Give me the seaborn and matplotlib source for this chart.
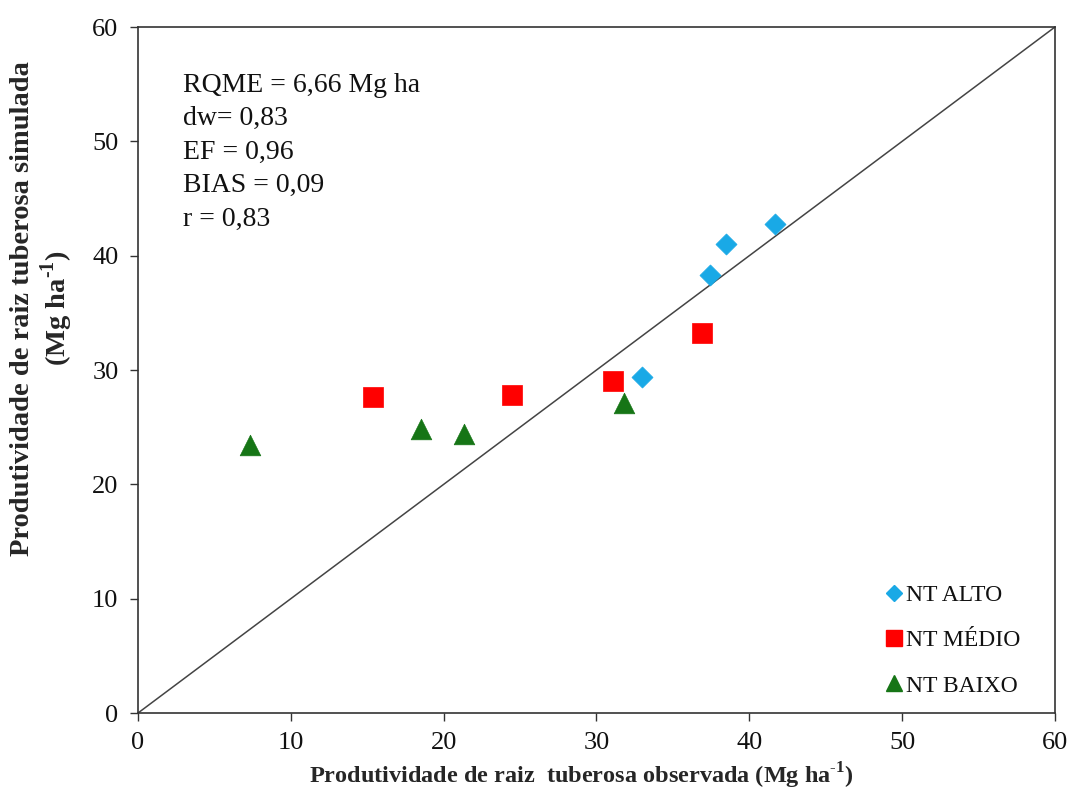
import matplotlib
matplotlib.use("Agg")
import matplotlib.pyplot as plt
import seaborn as sns
import pandas as pd
from matplotlib.lines import Line2D

# Data
groups = ["NT ALTO", "NT MÉDIO", "NT BAIXO"]
alto_obs = [33.0, 37.4, 38.5, 41.7]
alto_sim = [29.4, 38.3, 41.0, 42.8]
medio_obs = [15.4, 24.5, 31.1, 36.9]
medio_sim = [27.6, 27.8, 29.0, 33.2]
baixo_obs = [7.3, 18.5, 21.3, 31.8]
baixo_sim = [23.4, 24.8, 24.4, 27.1]
ticks = [0, 10, 20, 30, 40, 50, 60]
stats_text = ["RQME = 6,66 Mg ha", "dw= 0,83", "EF = 0,96", "BIAS = 0,09", "r = 0,83"]

df = pd.DataFrame({
    "obs": alto_obs + medio_obs + baixo_obs,
    "sim": alto_sim + medio_sim + baixo_sim,
    "grp": [groups[0]] * len(alto_obs) + [groups[1]] * len(medio_obs) + [groups[2]] * len(baixo_obs),
})

sns.set_style("white")
plt.rcParams["font.family"] = ["Liberation Serif", "DejaVu Serif"]
plt.rcParams["mathtext.fontset"] = "custom"
plt.rcParams["mathtext.rm"] = "Liberation Serif"
plt.rcParams["mathtext.bf"] = "Liberation Serif:bold"

fig = plt.figure(figsize=(10.73, 7.92), dpi=100)
ax = fig.add_axes([0.1286, 0.0997, 0.9832 - 0.1286, 0.9659 - 0.0997])

palette = {groups[0]: "#19A9E6", groups[1]: "#FF0000", groups[2]: "#167516"}
markers = {groups[0]: "D", groups[1]: "s", groups[2]: "^"}
sizes = {groups[0]: 115, groups[1]: 200, groups[2]: 220}

# 1:1 line
lim = [ticks[0], ticks[-1]]
ax.plot(lim, lim, color="#444444", lw=1.1, zorder=1)

for g in groups:
    sub = df[df.grp == g]
    sns.scatterplot(data=sub, x="obs", y="sim", color=palette[g], marker=markers[g],
                    s=sizes[g], edgecolor=palette[g], linewidth=0.5, ax=ax, zorder=3,
                    legend=False)

ax.set_xlim(lim)
ax.set_ylim(lim)
ax.set_xticks(ticks)
ax.set_yticks(ticks)
ax.tick_params(axis="both", direction="out", length=6, width=1, color="#333333",
               labelsize=19, bottom=True, left=True, pad=8, labelcolor="#111111")
for sp in ax.spines.values():
    sp.set_color("#333333")
    sp.set_linewidth(1.2)

sup = "$^{\\mathbf{\\text{-}1}}$"
ax.set_xlabel("Produtividade de raiz  tuberosa observada (Mg ha" + sup + ")",
              fontsize=17.5, fontweight="bold")
ax.xaxis.set_label_coords(0.484, -0.07)
ax.set_ylabel("Produtividade de raiz tuberosa simulada\n(Mg ha" + sup + ")",
              fontsize=20.5, fontweight="bold", linespacing=1.1)
ax.yaxis.set_label_coords(-0.069, 0.59)

ax.text(0.049, 0.933, "\n".join(stats_text), transform=ax.transAxes, fontsize=20,
        va="top", ha="left", linespacing=1.44, color="#111111")

# legend
handles = [Line2D([], [], ls="none", marker=markers[g], color=palette[g],
                  markersize={groups[0]: 8, groups[1]: 11, groups[2]: 12}[g]) for g in groups]
leg = ax.legend(handles, groups, loc="lower left", bbox_to_anchor=(0.794, 0.0), frameon=False,
                fontsize=17, handletextpad=0.0, labelspacing=1.0, handlelength=1.0,
                borderaxespad=0.3)
for t in leg.get_texts():
    t.set_color("#111111")

fig.savefig("out.png", dpi=100)
